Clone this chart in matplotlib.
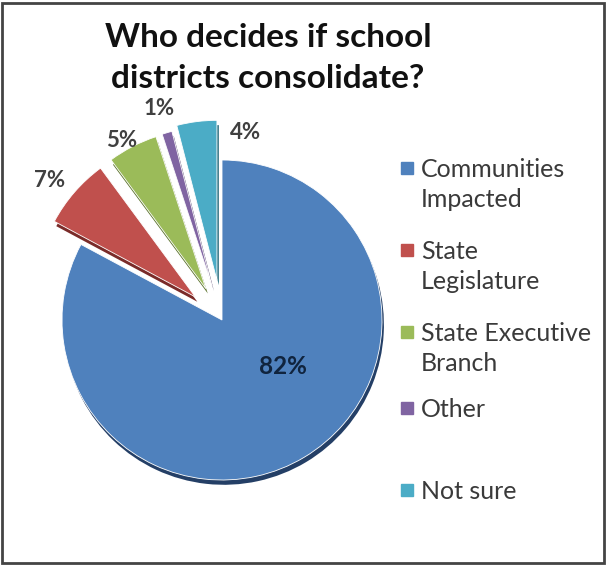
import numpy as np
import matplotlib
matplotlib.use("Agg")
import matplotlib.pyplot as plt
from matplotlib.patches import Rectangle

# survey answers, Excel 2007 palette
categories = ["Communities\nImpacted", "State\nLegislature",
              "State Executive\nBranch", "Other", "Not sure"]
shares = [82, 7, 5, 1, 4]
colors = ["#4F81BD", "#C0504D", "#9BBB59", "#8064A2", "#4BACC6"]
shade = ["#243F66", "#7A2B29", "#5E7530", "#4B3A66", "#2A6F80"]
explode = [0.0, 0.22, 0.22, 0.22, 0.25]

# label placement tweaks (radial distance incl. explosion, angle nudge in deg)
lab_dist = [0.48, 1.387, 1.287, 1.382, 1.178]
lab_nudge = [21.5, 2.1, 1.8, 0.2, -14.3]
lab_size = [17.5, 16, 16, 16, 16]

# first-line y (px from top) of each legend entry
legend_y = [168, 250, 332, 408, 490]

W, H = 606, 565
fig = plt.figure(figsize=(W / 100, H / 100), dpi=100)
fig.patch.set_facecolor("white")

# pie axes: centre at (222, 320) px, radius 160 px -> 1 unit
R = 160
half = 1.25 * R
ax = fig.add_axes([(222 - half) / W, (H - 320 - half) / H, 2 * half / W, 2 * half / H])

# depth / shadow layer, then main pie
ax.pie(shares, colors=shade, explode=explode, startangle=90, counterclock=False,
       center=(0.012, -0.03), frame=True)
wedges, _ = ax.pie(shares, colors=colors, explode=explode, startangle=90,
                   counterclock=False, frame=True,
                   wedgeprops=dict(edgecolor="white", linewidth=0.6))
ax.set_xlim(-1.25, 1.25)
ax.set_ylim(-1.25, 1.25)
ax.set_aspect("equal")
ax.axis("off")

# percentage labels
frac = np.array(shares) / np.sum(shares)
start = np.concatenate([[0], np.cumsum(frac)[:-1]])
mid = 90 - (start + frac / 2) * 360
for i, v in enumerate(shares):
    a = np.deg2rad(mid[i] + lab_nudge[i])
    ax.text(lab_dist[i] * np.cos(a), lab_dist[i] * np.sin(a), f"{v}%",
            ha="center", va="center", fontsize=lab_size[i], fontweight="bold",
            color="#10243E" if i == 0 else "#404040", family="Lato")

fig.text(268 / W, 1 - 58 / H, "Who decides if school\ndistricts consolidate?",
         ha="center", va="center", fontsize=24, fontweight="bold",
         family="Lato", linespacing=1.54, color="#111111")

# legend
for lab, c, y in zip(categories, colors, legend_y):
    fig.patches.append(Rectangle((401 / W, 1 - (y + 6) / H), 12 / W, 12 / H,
                                 transform=fig.transFigure, color=c))
    fig.text(421 / W, 1 - (y - 10) / H, lab, ha="left", va="top",
             fontsize=18, family="Lato", color="#3A3A3A", linespacing=1.38)

# outer frame
fig.patches.append(Rectangle((2.5 / W, 2.5 / H), (W - 5) / W, (H - 5) / H,
                             transform=fig.transFigure, fill=False,
                             edgecolor="#444444", linewidth=2))

fig.savefig("out.png", dpi=100)
